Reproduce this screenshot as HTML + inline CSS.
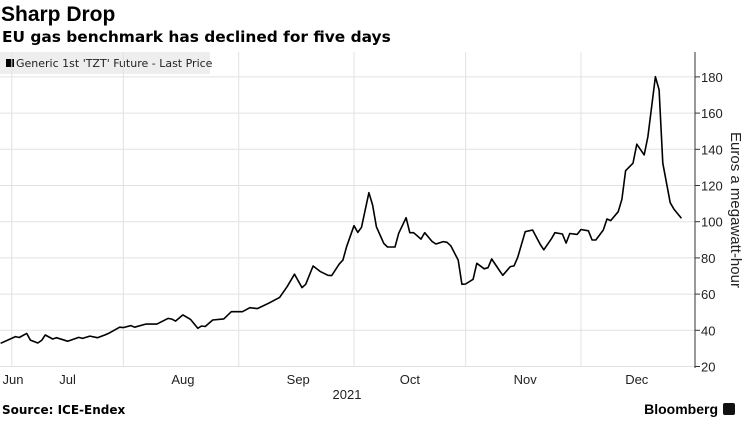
<!DOCTYPE html>
<html><head><meta charset="utf-8"><style>
body{margin:0;background:#fff;width:745px;height:419px;overflow:hidden;font-family:"Liberation Sans",sans-serif}
</style></head><body>
<svg width="745" height="419" viewBox="0 0 745 419" id="c">
<text x="1" y="21" font-size="21" font-weight="bold" fill="#000">Sharp Drop</text>
<text x="2" y="42" font-size="15.4" font-weight="bold" fill="#000" font-family="DejaVu Sans, sans-serif">EU gas benchmark has declined for five days</text>
<rect x="0" y="52" width="210" height="22" fill="#eee"/>
<rect x="6" y="59" width="8" height="8" fill="#000"/>
<text x="16" y="67" font-size="11" fill="#222" font-family="DejaVu Sans, sans-serif">Generic 1st 'TZT' Future - Last Price</text>
<g id="grid"></g>
<g id="axes"></g>
<path id="line" fill="none" stroke="#000" stroke-width="1.6" stroke-linejoin="round"/>
<text x="347" y="399" font-size="13" text-anchor="middle" fill="#222">2021</text>
<text transform="translate(731,210) rotate(90)" font-size="15" text-anchor="middle" fill="#222">Euros a megawatt-hour</text>
<text x="2" y="414" font-size="12" font-weight="bold" fill="#000" font-family="DejaVu Sans, sans-serif">Source: ICE-Endex</text>
<text x="718" y="414" font-size="14" font-weight="bold" text-anchor="end" fill="#000">Bloomberg</text>
<rect x="723" y="403" width="12" height="12" rx="2" fill="#111"/>
</svg>
<script>
const days=[12,16,17,19,20,22,23,24,26,27,30,33,34,36,38,40,41,44,45,47,48,51,54,57,58,59,61,63,65,66,67,69,72,74,77,79,81,84,87,89,91,93,94,96,98,100,101,103,104,105,107,108,109,111,112,113,115,116,118,119,121,122,123,125,126,128,129,131,132,133,135,136,137,139,140,142,143,144,146,147,149,150,151,153,155,157,158,160,161,163,164,165,167,168,170,171,172,174,175,176,178,179,180,182,183,185,186,188,189,190,192,193,195];
const prices=[32.8,36.5,36,38.3,34.6,33,34.4,37.4,35.2,35.9,34,36.1,35.5,36.8,35.9,37.4,38.3,41.7,41.5,42.6,41.7,43.4,43.4,46.6,46.2,45.1,48.5,46.1,41.1,42.4,42.1,45.7,46.3,50.3,50.3,52.5,52,54.9,58.2,64.1,71,63.6,65.4,75.5,72.4,70.4,70.2,76.6,78.8,86.2,97.8,94.1,96.9,116,109.2,97.2,88,86,86,93.6,102.2,93.9,93.9,90.4,93.9,89,87.7,89,88.6,86.7,78.8,65.4,65.6,68.2,77,74,74.6,79.4,73.3,70.4,75.2,75.6,80.3,94.5,95.4,87.7,84.5,90.4,93.9,93.2,88.2,93.5,93,95.7,95,89.9,89.9,95.4,101.5,100.6,105.5,112.4,128.2,132.3,142.8,136.9,147,180.1,172.8,132.3,110.5,106.9,101.9];
const yTicks=[20,40,60,80,100,120,140,160,180];
const gridDays=[15,45,76,107,137,168];
const monthLabels=["Jun","Jul","Aug","Sep","Oct","Nov","Dec"];
const monthDays=[15,30,61,92,122,153,183];
const X=d=>-44+d*3.72, Y=v=>221.7-(v-100)*1.81;
const ns="http://www.w3.org/2000/svg";
const grid=document.getElementById('grid'), axes=document.getElementById('axes');
function mk(tag,attrs,parent){const e=document.createElementNS(ns,tag);for(const k in attrs)e.setAttribute(k,attrs[k]);parent.appendChild(e);return e;}
yTicks.forEach(v=>{
  const l=mk('line',{x1:0,x2:695,y1:Y(v),y2:Y(v),stroke:'#e2e2e2','stroke-width':1},grid);
  
  
  const t=mk('line',{x1:695,x2:700,y1:Y(v),y2:Y(v),stroke:'#333'},axes);
  
  
  const tx=mk('text',{x:701,y:Y(v)+5,'font-size':13,fill:'#222'},axes);
  tx.textContent=v;
  
  
});
gridDays.forEach(d=>{
  const l=mk('line',{x1:X(d),x2:X(d),y1:52,y2:367,stroke:'#e2e2e2','stroke-width':1},grid);
  
  
});
monthLabels.forEach((m,i)=>{
  const x=i===0?13:X(monthDays[i]);
  const t=mk('text',{x:x,y:384,'font-size':13,'text-anchor':'middle',fill:'#222'},axes);
  t.textContent=m;
  
  
});
const ax=mk('line',{x1:695,x2:695,y1:52,y2:368,stroke:'#333','stroke-width':1},axes);


document.getElementById('line').setAttribute('d',days.map((d,i)=>(i?'L':'M')+X(d).toFixed(1)+' '+Y(prices[i]).toFixed(1)).join(''));
</script>
</body></html>
